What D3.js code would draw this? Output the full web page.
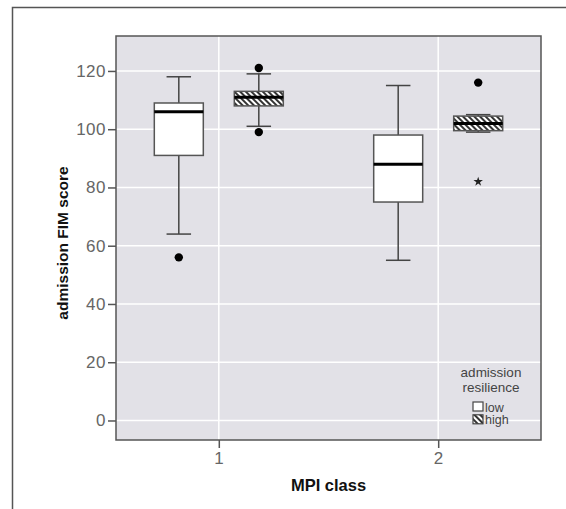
<!DOCTYPE html>
<html>
<head>
<meta charset="utf-8">
<script src="https://cdn.jsdelivr.net/npm/d3@7"></script>
<style>
  body { margin: 0; background: #fff; }
  svg { font-family: "Liberation Sans", Arial, sans-serif; }
</style>
</head>
<body>
<div id="plot"></div>
<script>
// categories and groups
var mpiClass = ["1", "2"];
var resilience = ["low", "high"];

// one entry per box: 1-low, 1-high, 2-low, 2-high
var boxClass = ["1", "1", "2", "2"];
var boxGroup = ["low", "high", "low", "high"];
var whiskerMin = [64, 101, 55, 99];
var q1 = [91, 108, 75, 99.5];
var median = [106, 111, 88, 102];
var q3 = [109, 113, 98, 104.5];
var whiskerMax = [118, 119, 115, 105];

// outliers (circles) and extremes (stars)
var outlierClass = ["1", "1", "1", "2"];
var outlierGroup = ["low", "high", "high", "high"];
var outlierValue = [56, 121, 99, 116];
var extremeClass = ["2"];
var extremeGroup = ["high"];
var extremeValue = [82];

var yTicks = [0, 20, 40, 60, 80, 100, 120];

var W = 566, H = 509;
var plot = { left: 116, right: 541, top: 36, bottom: 440 };

var svg = d3.select("#plot").append("svg")
  .attr("width", W)
  .attr("height", H);

// hatch pattern for "high"
var defs = svg.append("defs");
var pat = defs.append("pattern")
  .attr("id", "hatch")
  .attr("patternUnits", "userSpaceOnUse")
  .attr("width", 4)
  .attr("height", 4)
  .attr("patternTransform", "rotate(-45)");
pat.append("rect").attr("width", 4).attr("height", 4).attr("fill", "#fff");
pat.append("rect").attr("width", 2).attr("height", 4).attr("fill", "#333");

// outer frame (runs off the right and bottom)
svg.append("path")
  .attr("d", "M12.5," + H + "V7.5H" + W)
  .attr("fill", "none")
  .attr("stroke", "#555")
  .attr("stroke-width", 1.5);

var xScale = d3.scalePoint()
  .domain(mpiClass)
  .range([plot.left, plot.right])
  .padding(0.4686);

var sub = d3.scaleBand()
  .domain(resilience)
  .range([-80, 80])
  .paddingInner(0.3875)
  .paddingOuter(0.19375);

var yScale = d3.scaleLinear()
  .domain([-6.7, 132])
  .range([plot.bottom, plot.top]);

// plot background
svg.append("rect")
  .attr("x", plot.left)
  .attr("y", plot.top)
  .attr("width", plot.right - plot.left)
  .attr("height", plot.bottom - plot.top)
  .attr("fill", "#e2e1e7");

// grid
svg.append("g").selectAll("line").data(yTicks).enter().append("line")
  .attr("x1", plot.left).attr("x2", plot.right)
  .attr("y1", function (d) { return yScale(d); })
  .attr("y2", function (d) { return yScale(d); })
  .attr("stroke", "#fff").attr("stroke-width", 1.5);

svg.append("g").selectAll("line").data(mpiClass).enter().append("line")
  .attr("y1", plot.top).attr("y2", plot.bottom)
  .attr("x1", function (d) { return xScale(d); })
  .attr("x2", function (d) { return xScale(d); })
  .attr("stroke", "#fff").attr("stroke-width", 1.5);

// axes
var yAxis = d3.axisLeft(yScale).tickValues(yTicks).tickSize(8).tickPadding(2);
var gy = svg.append("g")
  .attr("transform", "translate(" + plot.left + ",0)")
  .call(yAxis);

var xAxis = d3.axisBottom(xScale).tickSize(8).tickPadding(4);
var gx = svg.append("g")
  .attr("transform", "translate(0," + plot.bottom + ")")
  .call(xAxis);

[gy, gx].forEach(function (g) {
  g.attr("font-size", null).attr("font-family", null);
  g.select(".domain").remove();
  g.selectAll(".tick line").attr("stroke", "#555").attr("stroke-width", 1.5);
  g.selectAll(".tick text")
    .attr("fill", "#666")
    .style("font-size", "17px")
    .style("letter-spacing", "0.5px");
});

// plot frame
svg.append("rect")
  .attr("x", plot.left)
  .attr("y", plot.top)
  .attr("width", plot.right - plot.left)
  .attr("height", plot.bottom - plot.top)
  .attr("fill", "none")
  .attr("stroke", "#555")
  .attr("stroke-width", 1.5);

// boxes
var boxes = boxClass.map(function (c, i) {
  return {
    cx: xScale(c) + sub(boxGroup[i]) + sub.bandwidth() / 2,
    group: boxGroup[i],
    lo: whiskerMin[i], q1: q1[i], med: median[i], q3: q3[i], hi: whiskerMax[i]
  };
});

var bw = sub.bandwidth();
var capW = bw / 2;
var gBox = svg.append("g").selectAll("g").data(boxes).enter().append("g");

gBox.append("line")
  .attr("x1", function (d) { return d.cx; })
  .attr("x2", function (d) { return d.cx; })
  .attr("y1", function (d) { return yScale(d.hi); })
  .attr("y2", function (d) { return yScale(d.lo); })
  .attr("stroke", "#444").attr("stroke-width", 1.5);

gBox.selectAll(".cap")
  .data(function (d) { return [{ cx: d.cx, v: d.hi }, { cx: d.cx, v: d.lo }]; })
  .enter().append("line")
  .attr("class", "cap")
  .attr("x1", function (d) { return d.cx - capW / 2; })
  .attr("x2", function (d) { return d.cx + capW / 2; })
  .attr("y1", function (d) { return yScale(d.v); })
  .attr("y2", function (d) { return yScale(d.v); })
  .attr("stroke", "#444").attr("stroke-width", 1.5);

gBox.append("rect")
  .attr("x", function (d) { return d.cx - bw / 2; })
  .attr("width", bw)
  .attr("y", function (d) { return yScale(d.q3); })
  .attr("height", function (d) { return yScale(d.q1) - yScale(d.q3); })
  .attr("fill", function (d) { return d.group == "high" ? "url(#hatch)" : "#fff"; })
  .attr("stroke", "#555").attr("stroke-width", 1.5);

gBox.append("line")
  .attr("x1", function (d) { return d.cx - bw / 2; })
  .attr("x2", function (d) { return d.cx + bw / 2; })
  .attr("y1", function (d) { return yScale(d.med); })
  .attr("y2", function (d) { return yScale(d.med); })
  .attr("stroke", "#000").attr("stroke-width", 3);

// outliers
svg.append("g").selectAll("circle").data(outlierValue).enter().append("circle")
  .attr("cx", function (d, i) { return xScale(outlierClass[i]) + sub(outlierGroup[i]) + bw / 2; })
  .attr("cy", function (d) { return yScale(d); })
  .attr("r", 4.2)
  .attr("fill", "#000");

svg.append("g").selectAll("path").data(extremeValue).enter().append("path")
  .attr("transform", function (d, i) {
    return "translate(" + (xScale(extremeClass[i]) + sub(extremeGroup[i]) + bw / 2) + "," + yScale(d) + ")";
  })
  .attr("d", d3.symbol().type(d3.symbolStar).size(28))
  .attr("fill", "#222");

// axis titles
svg.append("text")
  .attr("transform", "translate(68,243) rotate(-90)")
  .attr("text-anchor", "middle")
  .style("font-size", "15.5px")
  .style("font-weight", "bold")
  .attr("fill", "#111")
  .text("admission FIM score");

svg.append("text")
  .attr("x", (plot.left + plot.right) / 2)
  .attr("y", 491)
  .attr("text-anchor", "middle")
  .style("font-size", "16.5px")
  .style("font-weight", "bold")
  .attr("fill", "#111")
  .text("MPI class");

// legend
var legend = svg.append("g");
legend.append("text")
  .attr("x", 491).attr("y", 376.5)
  .attr("text-anchor", "middle")
  .style("font-size", "13.5px").attr("fill", "#444")
  .text("admission");
legend.append("text")
  .attr("x", 491).attr("y", 392)
  .attr("text-anchor", "middle")
  .style("font-size", "13.5px").attr("fill", "#444")
  .text("resilience");

var li = legend.selectAll(".item").data(resilience).enter().append("g")
  .attr("class", "item")
  .attr("transform", function (d, i) { return "translate(473," + (402 + i * 12.8) + ")"; });
li.append("rect")
  .attr("width", 10).attr("height", 9)
  .attr("fill", function (d) { return d == "high" ? "url(#hatch)" : "#fff"; })
  .attr("stroke", "#444").attr("stroke-width", 1.2);
li.append("text")
  .attr("x", 12).attr("y", 9.5)
  .style("font-size", "12.5px").attr("fill", "#444")
  .text(function (d) { return d; });
</script>
</body>
</html>
